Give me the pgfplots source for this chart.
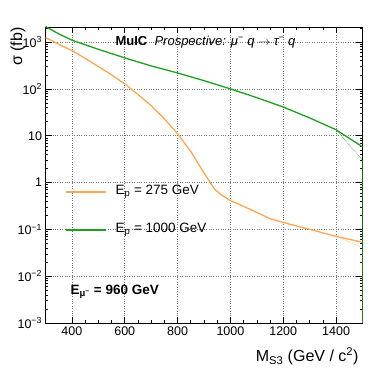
\documentclass[border=0pt]{standalone}
\usepackage{pgfplots}
\pgfplotsset{compat=1.18}
\usepackage{fontspec}
\setmainfont{Liberation Sans}
\definecolor{rootorange}{RGB}{255,165,80}
\definecolor{rootgreen}{RGB}{30,160,30}

\begin{document}
\begin{tikzpicture}[x=1pt,y=1pt]
  \path[use as bounding box] (0,0) rectangle (381,371);
  \begin{axis}[
      at={(45.5pt,48pt)}, anchor=south west,
      scale only axis,
      width=317pt, height=296pt,
      xmin=300, xmax=1500,
      ymin=1e-3, ymax=2100,
      ymode=log,
      xtick={400,600,800,1000,1200,1400},
      minor x tick num=3,
      ytick={1e-3,1e-2,1e-1,1,10,100,1000},
      minor ytick={2e-3,3e-3,4e-3,5e-3,6e-3,7e-3,8e-3,9e-3,
                   2e-2,3e-2,4e-2,5e-2,6e-2,7e-2,8e-2,9e-2,
                   0.2,0.3,0.4,0.5,0.6,0.7,0.8,0.9,
                   2,3,4,5,6,7,8,9,
                   20,30,40,50,60,70,80,90,
                   200,300,400,500,600,700,800,900,2000},
      yticklabels={10\textsuperscript{−3},10\textsuperscript{−2},10\textsuperscript{−1},1,10,10\textsuperscript{2},10\textsuperscript{3}},
      /pgf/number format/assume math mode=true,
      /pgf/number format/1000 sep={},
      xticklabel style={font=\fontsize{12.5}{14}\selectfont},
      yticklabel style={font=\fontsize{12.5}{14}\selectfont},
      tick align=inside,
      major tick length=6pt, minor tick length=3pt,
      xmajorgrids, ymajorgrids,
      grid style={dotted, black!55, line width=0.6pt},
      axis line style={line width=0.8pt},
      every tick/.style={black, line width=0.6pt},
      clip=true,
    ]
    % E_p = 275 GeV
    \addplot[rootorange, line width=1.3pt] coordinates {
      (300,1250) (350,900) (400,660) (450,450) (500,300) (550,200)
      (600,128) (650,76) (700,44) (750,23) (800,11) (850,4.6)
      (900,1.6) (940,0.72) (965,0.55) (1000,0.41) (1050,0.31)
      (1100,0.23) (1150,0.17) (1200,0.14) (1300,0.10) (1400,0.071)
      (1500,0.053)
    };
    \addplot[rootorange, densely dotted, line width=0.6pt] coordinates {
      (1400,0.071) (1500,0.041) (1500,1e-3)
    };
    % E_p = 1000 GeV
    \addplot[rootgreen, line width=1.3pt] coordinates {
      (300,2150) (350,1500) (400,1100) (500,700) (600,460) (700,310)
      (800,219) (900,150) (1000,100) (1100,65) (1200,41) (1300,24)
      (1400,13.4) (1500,5.8)
    };
    \addplot[rootgreen, densely dotted, line width=0.6pt] coordinates {
      (1400,13.4) (1500,3.0)
    };
    \addplot[rootgreen, line width=0.6pt] coordinates {
      (1500,3.0) (1500,1e-3)
    };
  \end{axis}
  % legend
  \draw[rootorange, line width=1.3pt] (66,179) -- (106,179);
  \node[anchor=west, font=\fontsize{13.5}{15}\selectfont] at (112,179) {E\textsubscript{p} = 275 GeV};
  \draw[rootgreen, line width=1.3pt] (66,141) -- (106,141);
  \node[anchor=west, font=\fontsize{13.5}{15}\selectfont] at (112,141) {E\textsubscript{p} = 1000 GeV};
  % annotations
  \node[anchor=west, font=\fontsize{13}{15}\selectfont] at (112,329)
    {\textbf{MuIC}\ \ \textit{Prospective: μ\textsuperscript{−} q $\rightarrow$ τ\textsuperscript{−} q}};
  \node[anchor=west, font=\fontsize{13.5}{15}\selectfont\bfseries] at (67,79)
    {E\textsubscript{μ\textsuperscript{−}} = 960 GeV};
  \node[anchor=east, rotate=90, font=\fontsize{16}{18}\selectfont] at (18,347) {σ (fb)};
  \node[anchor=north east, font=\fontsize{16}{18}\selectfont] at (362,27)
    {M\textsubscript{S3} (GeV / c\textsuperscript{2})};
\end{tikzpicture}
\end{document}
